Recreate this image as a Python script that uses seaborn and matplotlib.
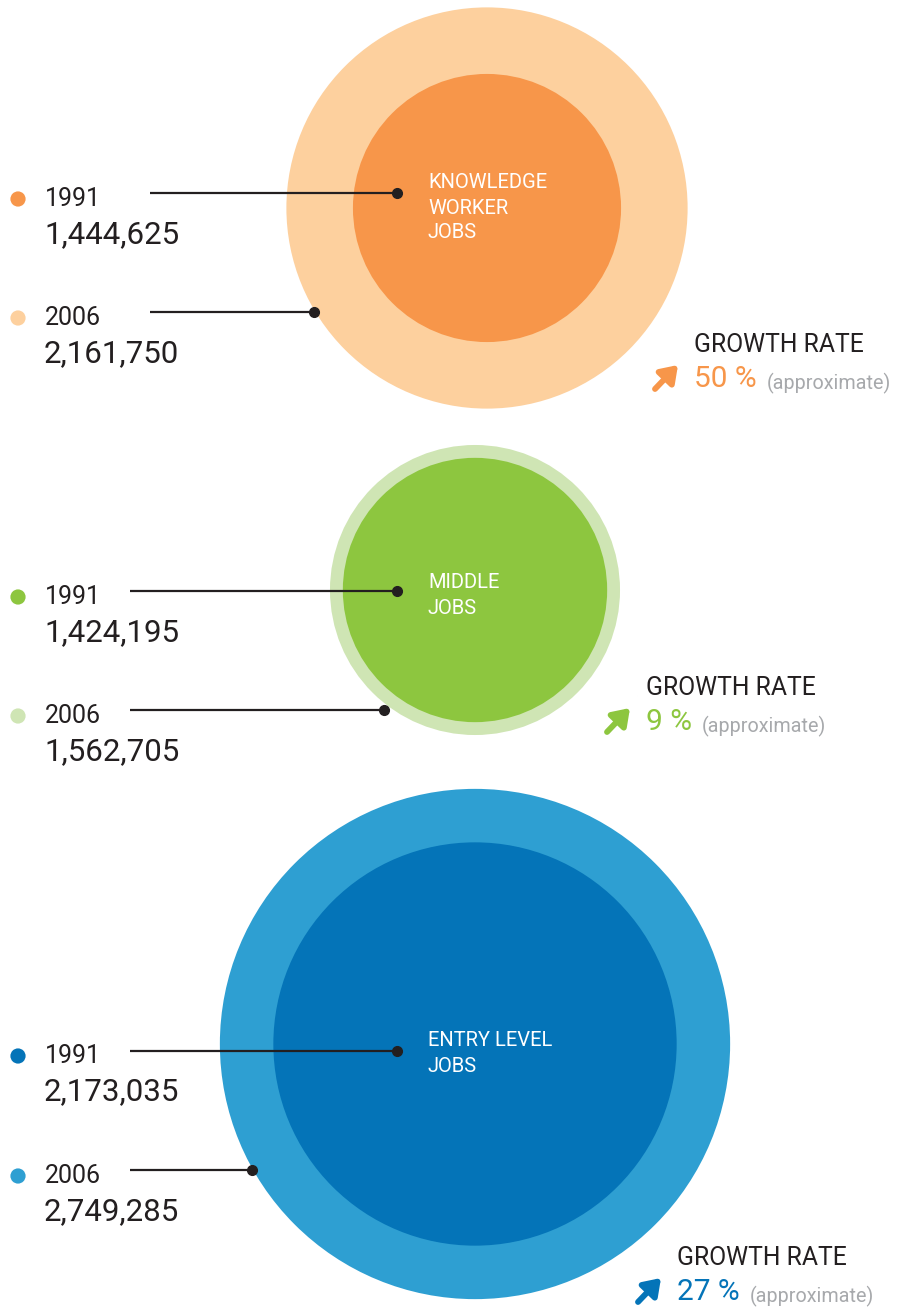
import numpy as np
import pandas as pd
import matplotlib
matplotlib.use("Agg")
import matplotlib.pyplot as plt
from matplotlib.patches import Circle
import seaborn as sns

# job counts per category
categories = ["KNOWLEDGE\nWORKER\nJOBS", "MIDDLE\nJOBS", "ENTRY LEVEL\nJOBS"]
years = ["1991", "2006"]
jobs_1991 = [1444625, 1424195, 2173035]
jobs_2006 = [2161750, 1562705, 2749285]
growth_pct = [50, 9, 27]

inner_colors = ["#F7964A", "#8DC63F", "#0474B8"]
outer_colors = ["#FDD09E", "#CFE5B4", "#2E9FD2"]

sns.set_theme(style="white")
plt.rcParams["font.family"] = ["Roboto", "DejaVu Sans"]

fig = plt.figure(figsize=(9, 13.1), dpi=100)
ax = fig.add_axes([0, 0, 1, 1])
ax.set_xlim(0, 900)
ax.set_ylim(1310, 0)
ax.axis("off")

px_per_job = 92.8 / 1e6  # radius proportional to job count

# layout for each group
centers = [(487, 208), (475, 590), (475, 1044)]
name_y = [183, 583, 1041]
line_y = [(193, 312), (591, 710), (1051, 1170)]
line_x0 = [150, 130, 130]
dot_x = [(397, 314), (397, 384), (397, 252)]
label_y = [(199, 318), (597, 716), (1056, 1176)]
growth_pos = [(694, 345), (646, 688), (677, 1258)]

dark = "#231F20"
bullets = []
for i in range(3):
    cx, cy = centers[i]
    ax.add_patch(Circle((cx, cy), jobs_2006[i] * px_per_job, color=outer_colors[i], lw=0))
    ax.add_patch(Circle((cx, cy), jobs_1991[i] * px_per_job, color=inner_colors[i], lw=0))
    for k, part in enumerate(categories[i].split("\n")):
        ax.text(428, name_y[i] + 25 * k, part, color="white", fontsize=14.5,
                va="center", ha="left")

    for j, (val, col) in enumerate([(jobs_1991[i], inner_colors[i]), (jobs_2006[i], outer_colors[i])]):
        ly = line_y[i][j]
        ax.plot([line_x0[i], dot_x[i][j]], [ly, ly], color=dark, lw=1.6, solid_capstyle="butt")
        ax.plot(dot_x[i][j], ly, "o", color=dark, ms=7)
        ty = label_y[i][j]
        bullets.append({"x": 18, "y": ty, "c": col})
        ax.text(45, ty, years[j], color=dark, fontsize=18, va="center", ha="left")
        ax.text(44, ty + 36, f"{val:,}", color=dark, fontsize=22.5, va="center", ha="left")

    gx, gy = growth_pos[i]
    ax.text(gx, gy, "GROWTH RATE", color=dark, fontsize=17.8, va="center", ha="left")
    t = ax.text(gx, gy + 34, f"{growth_pct[i]} %", color=inner_colors[i], fontsize=21.5,
                va="center", ha="left")
    ax.annotate("", xy=(gx - 16, gy + 20), xytext=(gx - 39, gy + 44),
                arrowprops=dict(arrowstyle="-|>,head_length=0.8,head_width=0.55",
                                color=inner_colors[i], lw=4.2, shrinkA=0, shrinkB=0))
    fig.canvas.draw()
    bb = t.get_window_extent().transformed(ax.transData.inverted())
    ax.text(bb.x1 + 10, gy + 38, "(approximate)", color="#A7A9AC", fontsize=14.2,
            va="center", ha="left")

bdf = pd.DataFrame(bullets)
sns.scatterplot(data=bdf, x="x", y="y", hue="c", palette={c: c for c in bdf["c"]},
                s=120, linewidth=0, legend=False, ax=ax)
ax.set_xlim(0, 900)
ax.set_ylim(1310, 0)

fig.savefig("out.png", dpi=100)
